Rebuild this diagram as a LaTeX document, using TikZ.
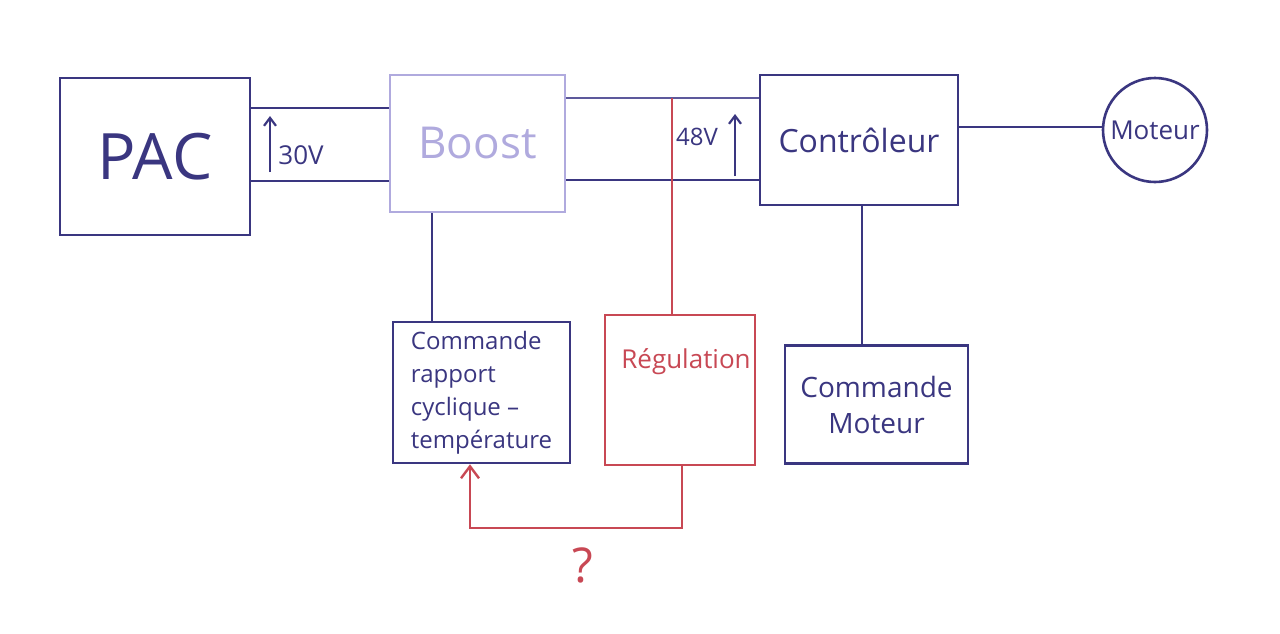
\documentclass[tikz,border=0pt]{standalone}
\usepackage{fontspec}
\setmainfont{Open Sans}
\usetikzlibrary{arrows.meta,calc}
\definecolor{ink}{RGB}{58,54,128}
\definecolor{lav}{RGB}{176,170,222}
\definecolor{rink}{RGB}{200,72,84}
\tikzset{
  box/.style={draw=ink, line width=1.3pt, text=ink, inner sep=2pt, align=center},
  lbox/.style={draw=lav, line width=1.3pt, text=lav, inner sep=2pt, align=center},
  rbox/.style={draw=rink, line width=1.3pt, text=rink, inner sep=2pt, align=center},
  wire/.style={draw=ink, line width=1.2pt},
  lwire/.style={draw=ink!70!lav, line width=1.2pt},
  rwire/.style={draw=rink, line width=1.2pt},
  volt/.style={draw=ink, line width=1.1pt, -{Straight Barb[length=4pt,width=6pt]}},
  lab/.style={text=ink, inner sep=1pt}
}
\begin{document}
\begin{tikzpicture}[x=0.5pt,y=-0.5pt]
\useasboundingbox[fill=white] (0,0) rectangle (1280,633);
% blocks
\node[box, minimum width=95pt, minimum height=78.5pt, font=\fontsize{32}{36}\selectfont] (pac) at (155,156.5) {PAC};
\node[lbox, minimum width=87.5pt, minimum height=68.5pt, font=\fontsize{22}{26}\selectfont] (boost) at (477.5,143.5) {Boost};
\node[box, minimum width=99pt, minimum height=65pt, font=\fontsize{16}{19}\selectfont] (ctrl) at (859,140) {Contrôleur};
\node[circle, draw=ink, line width=1.3pt, text=ink, minimum size=52pt, inner sep=0pt, font=\fontsize{13}{15}\selectfont] (mot) at (1155,130) {Moteur};
\node[box, minimum width=88.5pt, minimum height=70.5pt, font=\fontsize{12}{16.5}\selectfont, align=left] (cmd) at (481.5,392.5) {Commande\\rapport\\cyclique –\\température};
\node[rbox, minimum width=75pt, minimum height=75pt] (reg) at (680,390) {};
\node[text=rink, font=\fontsize{13}{16}\selectfont, inner sep=0pt] (regtxt) at (686,362) {Régulation};
\node[box, minimum width=91.5pt, minimum height=59pt, font=\fontsize{14}{18}\selectfont] (cmdm) at (876.5,404.5) {Commande\\Moteur};
% power bus PAC - Boost
\draw[wire] (pac.east |- 0,108) -- (boost.west |- 0,108);
\draw[wire] (pac.east |- 0,181) -- (boost.west |- 0,181);
\coordinate (v30a) at (270,172);
\coordinate (v30b) at (270,116);
\draw[volt] (v30a) -- (v30b);
\node[lab, font=\fontsize{13}{15}\selectfont, anchor=west] (v30) at (276,155) {30V};
% bus Boost - Controleur
\draw[lwire] (boost.east |- 0,98) -- (ctrl.west |- 0,98);
\draw[wire] (boost.east |- 0,180) -- (ctrl.west |- 0,180);
\coordinate (v48a) at (735,176);
\coordinate (v48b) at (735,114);
\draw[volt] (v48a) -- (v48b);
\node[lab, font=\fontsize{12}{14}\selectfont] (v48) at (697,137) {48V};
% other links
\draw[wire] (ctrl.east |- 0,127) -- (mot.west |- 0,127);
\draw[wire] (boost.south -| 432,0) -- (cmd.north -| 432,0);
\draw[wire] (ctrl.south -| 862,0) -- (cmdm.north -| 862,0);
% regulation (red)
\draw[rwire] (reg.north -| 672,0) -- (672,98);
\coordinate (fb) at (682,528);
\draw[rwire, -{Straight Barb[length=6pt,width=9pt]}] (reg.south -| fb) -- (fb) -- (fb -| 470,0) -- (cmd.south -| 470,0);
\node[text=rink, font=\fontsize{24}{28}\selectfont] (q) at (583,565) {?};
\end{tikzpicture}
\end{document}
